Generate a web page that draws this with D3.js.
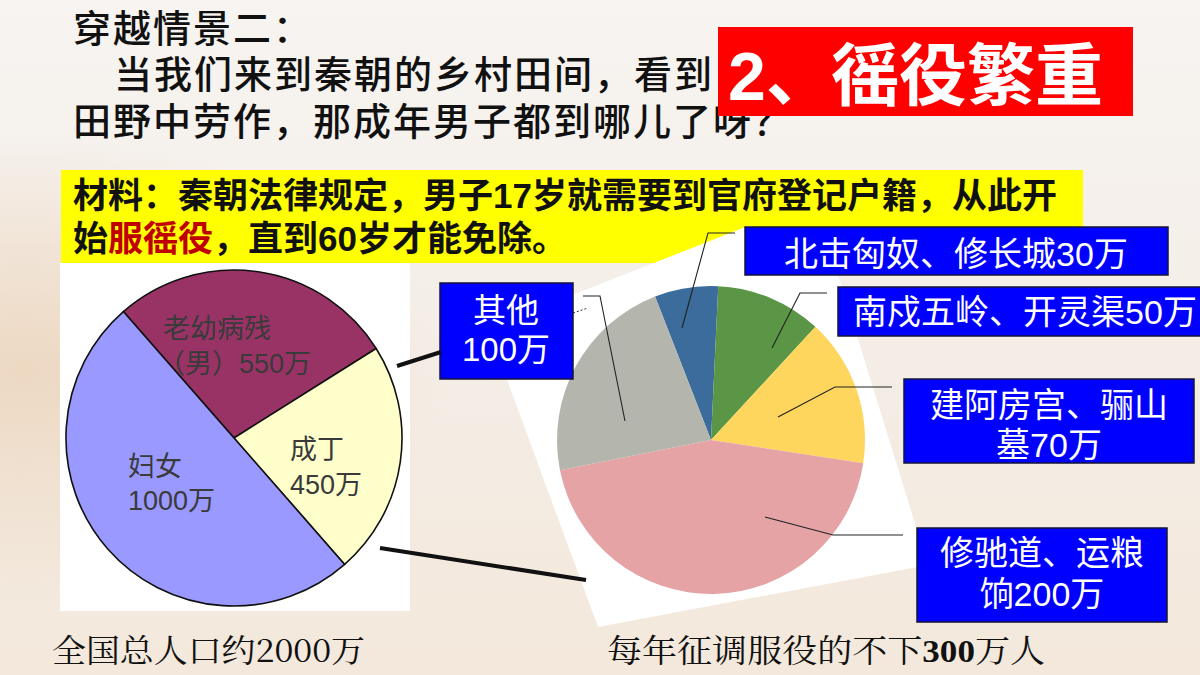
<!DOCTYPE html>
<html><head><meta charset="utf-8">
<script src="https://cdn.jsdelivr.net/npm/d3@7"></script>
<style>
html,body{margin:0;padding:0;background:#f5efe8;}
svg{display:block;}
</style></head>
<body>
<svg id="chart" width="1200" height="675"></svg>
<script>
// ---------- DATA ----------
const popCategories = ["老幼病残（男）", "成丁", "妇女"];
const popValues = [550, 450, 1000];
const popLabelLines = [["老幼病残", "（男）550万"], ["成丁", "450万"], ["妇女", "1000万"]];

const corveeCategories = ["北击匈奴、修长城", "南戍五岭、开灵渠", "建阿房宫、骊山墓", "修驰道、运粮饷", "其他"];
const corveeValues = [30, 50, 70, 200, 100];
const corveeLabelLines = [["北击匈奴、修长城30万"], ["南戍五岭、开灵渠50万"], ["建阿房宫、骊山", "墓70万"], ["修驰道、运粮", "饷200万"], ["其他", "100万"]];

const titleLines = ["穿越情景二：", "当我们来到秦朝的乡村田间，看到", "田野中劳作，那成年男子都到哪儿了呀？"];
const headline = ["2、", "徭役繁重"];
const materialLine1 = "材料：秦朝法律规定，男子17岁就需要到官府登记户籍，从此开";
const materialLine2 = [["始", false], ["服徭役", true], ["，直到60岁才能免除。", false]];
const captionLeft = [["全国总人口约", false], ["2000", false], ["万", false]];
const captionRight = [["每年征调服役的不下", false], ["300", true], ["万人", false]];

// ---------- STYLE / LAYOUT ----------
const popColors = ["#993366", "#FFFFCC", "#9999FF"];
const corveeColors = ["#3B6C9C", "#5A9645", "#FED65D", "#E5A3A5", "#B4B5AC"];
const cjk = "'Noto Sans CJK SC', 'Noto Sans CJK JP', sans-serif";
const latinCjk = "'Liberation Sans', Arial, 'Noto Sans CJK SC', sans-serif";
const serifCjk = "'Noto Serif CJK SC', 'Liberation Serif', 'Noto Sans CJK SC', serif";

const svg = d3.select("#chart");
const defs = svg.append("defs");
const lg = defs.append("linearGradient").attr("id", "bg").attr("x1", 0).attr("y1", 0).attr("x2", 0).attr("y2", 1);
lg.append("stop").attr("offset", "0%").attr("stop-color", "#F7F4F1");
lg.append("stop").attr("offset", "55%").attr("stop-color", "#F4EDE6");
lg.append("stop").attr("offset", "100%").attr("stop-color", "#F3E8DB");
const rg = defs.append("radialGradient").attr("id", "warm").attr("cx", 0.02).attr("cy", 0.55).attr("r", 0.35);
rg.append("stop").attr("offset", "0%").attr("stop-color", "#ECD6BE").attr("stop-opacity", 0.9);
rg.append("stop").attr("offset", "100%").attr("stop-color", "#ECD6BE").attr("stop-opacity", 0);

svg.append("rect").attr("width", 1200).attr("height", 675).attr("fill", "url(#bg)");
svg.append("rect").attr("width", 1200).attr("height", 675).attr("fill", "url(#warm)");

// ---------- TITLE ----------
const title = svg.append("g").attr("font-family", cjk).attr("font-size", 38).attr("fill", "#111").attr("font-weight", 500).attr("letter-spacing", 2);
title.append("text").attr("x", 73).attr("y", 42).text(titleLines[0]);
title.append("text").attr("x", 114).attr("y", 88).text(titleLines[1]);
title.append("text").attr("x", 73).attr("y", 135).text(titleLines[2]);

// ---------- MATERIAL BOX ----------
svg.append("rect").attr("x", 61).attr("y", 170).attr("width", 1022).attr("height", 93).attr("fill", "#FFFF00");
const mat = svg.append("g").attr("font-family", latinCjk).attr("font-size", 35).attr("font-weight", "bold").attr("fill", "#111");
mat.append("text").attr("x", 73).attr("y", 208).text(materialLine1);
const m2 = mat.append("text").attr("x", 73).attr("y", 251);
m2.selectAll("tspan").data(materialLine2).join("tspan").attr("fill", d => d[1] ? "#C00000" : "#111").text(d => d[0]);

// ---------- LEFT PIE ----------
svg.append("rect").attr("x", 60).attr("y", 263).attr("width", 350).attr("height", 348).attr("fill", "#FFFFFF");
const leftCenter = [234, 438], leftR = 168;
const leftStart = -41.2 * Math.PI / 180;
const leftPie = d3.pie().sort(null).value(d => d).startAngle(leftStart).endAngle(leftStart + 2 * Math.PI);
const leftArc = d3.arc().innerRadius(0).outerRadius(leftR);
const gl = svg.append("g").attr("transform", `translate(${leftCenter})`);
gl.selectAll("path").data(leftPie(popValues)).join("path")
  .attr("d", leftArc).attr("fill", (d, i) => popColors[i]).attr("stroke", "#111").attr("stroke-width", 1.6).attr("stroke-linejoin", "round");
const popLabelPos = [[[163, 338], [158, 373]], [[290, 459], [290, 494]], [[128, 476], [128, 510]]];
const pl = svg.append("g").attr("font-family", latinCjk).attr("font-size", 27).attr("fill", "#3a3a3a");
popLabelLines.forEach((lines, i) => lines.forEach((t, j) => {
  pl.append("text").attr("x", popLabelPos[i][j][0]).attr("y", popLabelPos[i][j][1]).text(t);
}));

// ---------- RIGHT PIE BACKGROUND (tilted white card) ----------
svg.append("polygon").attr("points", "488,328 748,226 836,245 838,275 928,565 598,627").attr("fill", "#FFFFFF");

const rightCenter = [711, 440], rightR = 154;
const rightStart = -21.3 * Math.PI / 180;
const rightPie = d3.pie().sort(null).value(d => d).startAngle(rightStart).endAngle(rightStart + 2 * Math.PI);
const rightArc = d3.arc().innerRadius(0).outerRadius(rightR);
const gr = svg.append("g").attr("transform", `translate(${rightCenter})`);
gr.selectAll("path").data(rightPie(corveeValues)).join("path")
  .attr("d", rightArc).attr("fill", (d, i) => corveeColors[i]).attr("stroke", "none");

// leader lines
const leaders = [
  [[682, 328], [708, 233], [735, 233]],
  [[772, 348], [800, 293], [827, 293]],
  [[778, 417], [835, 387], [892, 387]],
  [[765, 517], [833, 535], [903, 535]],
  [[625, 421], [600, 296], [583, 296]]
];
svg.append("g").selectAll("path").data(leaders).join("path")
  .attr("d", d => d3.line()(d)).attr("fill", "none").attr("stroke", "#222").attr("stroke-width", 1.1);
svg.append("line").attr("x1", 573).attr("y1", 313).attr("x2", 588).attr("y2", 308)
  .attr("stroke", "#333").attr("stroke-width", 1).attr("stroke-dasharray", "2,2");

// label boxes
const boxes = [
  {x: 745, y: 227, w: 423, h: 48, cx: 956, base: [266]},
  {x: 838, y: 287, w: 370, h: 49, cx: 1025, base: [324]},
  {x: 904, y: 379, w: 290, h: 84, cx: 1049, base: [417, 457]},
  {x: 917, y: 528, w: 250, h: 94, cx: 1042, base: [565, 606]},
  {x: 440, y: 283, w: 133, h: 96, cx: 506, base: [322, 361]}
];
const lb = svg.append("g");
boxes.forEach((b, i) => {
  lb.append("rect").attr("x", b.x).attr("y", b.y).attr("width", b.w).attr("height", b.h)
    .attr("fill", "#0000FF").attr("stroke", "#14143a").attr("stroke-width", 1.5);
  corveeLabelLines[i].forEach((t, j) => {
    lb.append("text").attr("x", b.cx).attr("y", b.base[j]).attr("text-anchor", "middle")
      .attr("font-family", latinCjk).attr("font-size", i === 4 ? 33 : 34).attr("fill", "#FFFFFF").text(t);
  });
});

// thick connector lines between the charts
svg.append("line").attr("x1", 397).attr("y1", 366).attr("x2", 441).attr("y2", 352).attr("stroke", "#111").attr("stroke-width", 4);
svg.append("line").attr("x1", 380).attr("y1", 548).attr("x2", 586).attr("y2", 580).attr("stroke", "#111").attr("stroke-width", 4);

// ---------- HEADLINE ----------
svg.append("rect").attr("x", 718).attr("y", 27).attr("width", 415).attr("height", 89).attr("fill", "#FF0000");
const hl = svg.append("g").attr("font-family", latinCjk).attr("font-size", 68).attr("font-weight", "bold").attr("fill", "#FFFFFF");
hl.append("text").attr("x", 728).attr("y", 100).text(headline[0]);
hl.append("text").attr("x", 831).attr("y", 100).text(headline[1]);

// ---------- CAPTIONS ----------
const c1 = svg.append("text").attr("x", 52).attr("y", 662).attr("font-family", serifCjk).attr("font-size", 32).attr("fill", "#111")
  .attr("textLength", 313).attr("lengthAdjust", "spacingAndGlyphs");
c1.selectAll("tspan").data(captionLeft).join("tspan").text(d => d[0]);
const c2 = svg.append("text").attr("x", 607).attr("y", 662).attr("font-family", serifCjk).attr("font-size", 32).attr("fill", "#111")
  .attr("textLength", 438).attr("lengthAdjust", "spacingAndGlyphs");
c2.selectAll("tspan").data(captionRight).join("tspan").attr("font-weight", d => d[1] ? "bold" : "normal")
  .attr("font-family", d => d[1] ? "'Liberation Serif', serif" : null).text(d => d[0]);
</script>
</body></html>
